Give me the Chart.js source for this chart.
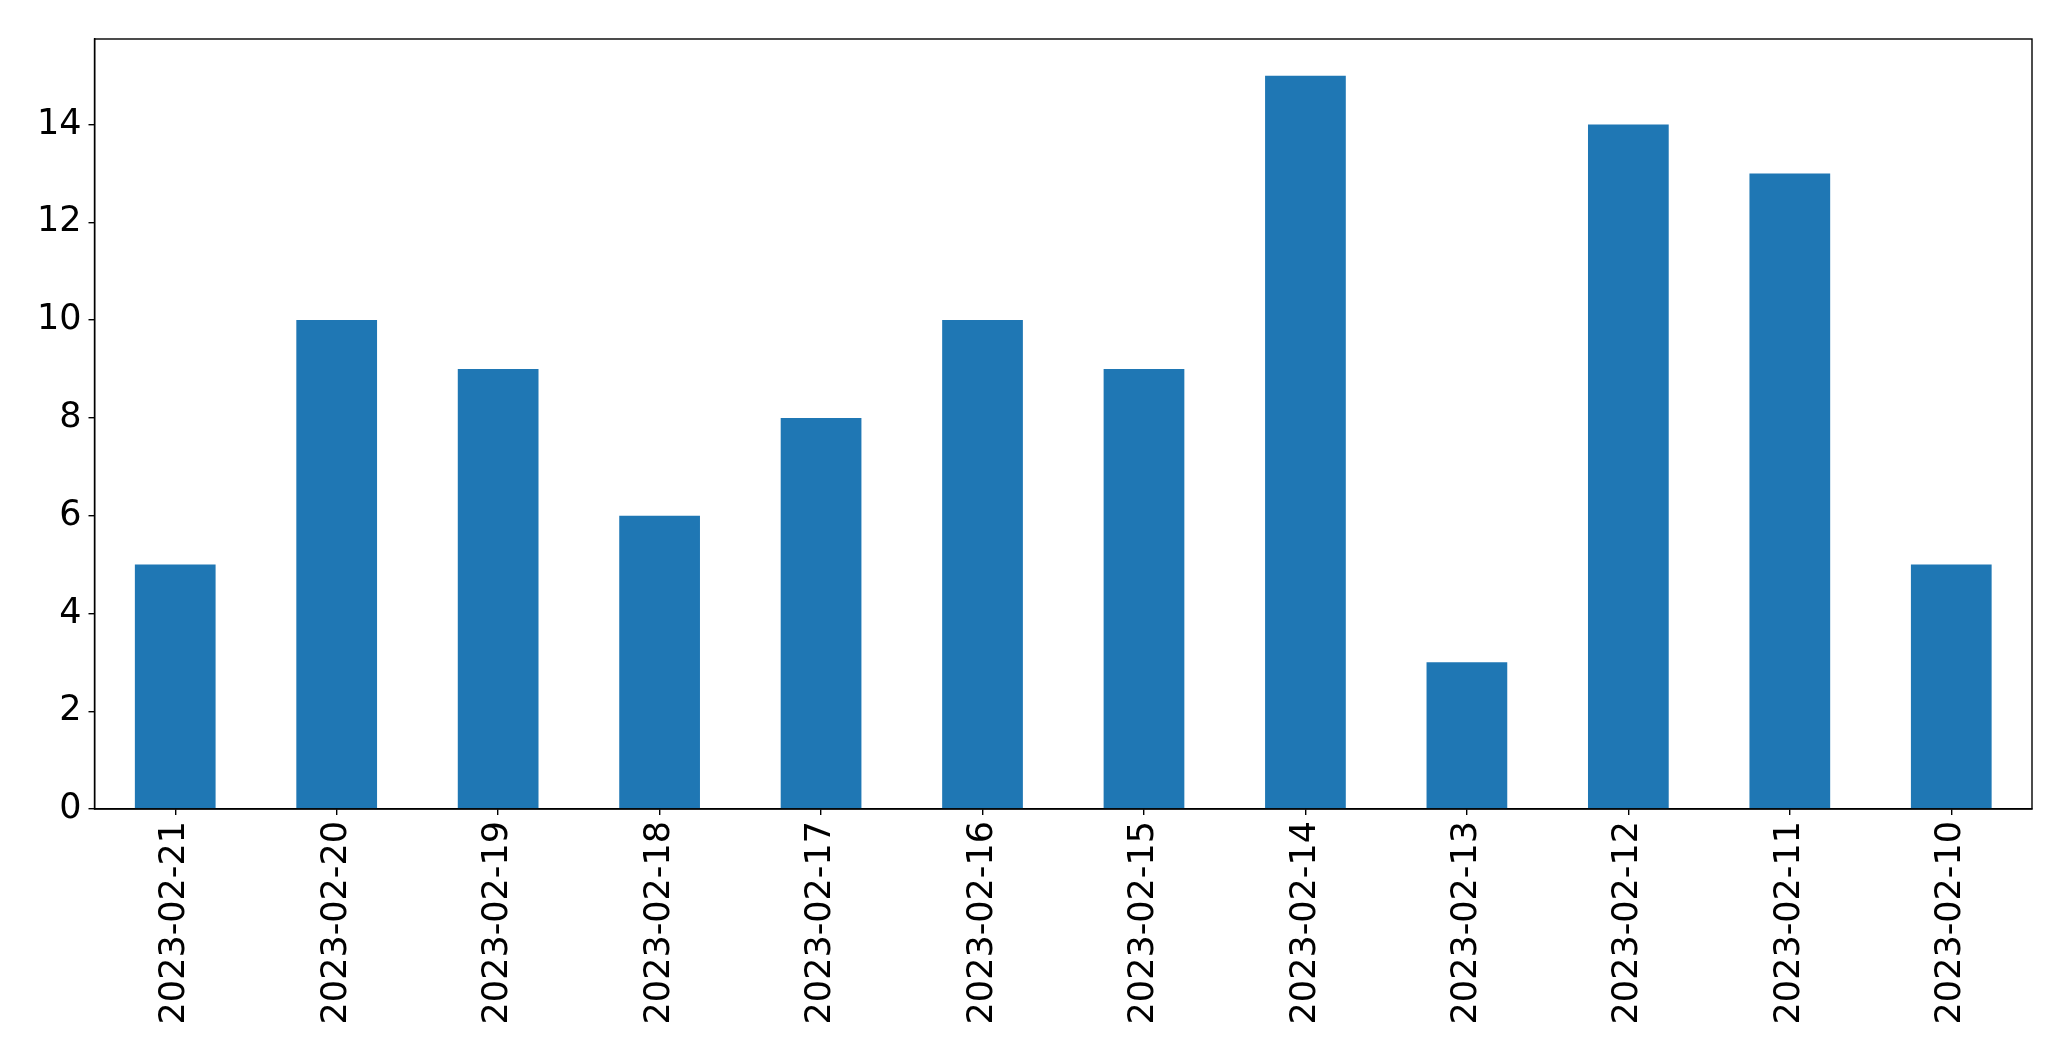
<!DOCTYPE html>
<html>
<head>
<meta charset="utf-8">
<script src="https://cdn.jsdelivr.net/npm/chart.js@4"></script>
<style>
  html, body { margin: 0; padding: 0; background: #fff; }
  canvas { display: block; }
</style>
</head>
<body>
<canvas id="barChart" width="2071" height="1061"></canvas>
<script>
var categories = ["2023-02-21", "2023-02-20", "2023-02-19", "2023-02-18", "2023-02-17", "2023-02-16",
                  "2023-02-15", "2023-02-14", "2023-02-13", "2023-02-12", "2023-02-11", "2023-02-10"];
var counts = [5, 10, 9, 6, 8, 10, 9, 15, 3, 14, 13, 5];
var yTicks = [0, 2, 4, 6, 8, 10, 12, 14];

// cadre complet autour de la zone du graphique
var frame = {
    id: "frame",
    afterDraw: function (chart) {
        var a = chart.chartArea, ctx = chart.ctx;
        ctx.save();
        ctx.strokeStyle = "#000";
        ctx.lineWidth = 1.4;
        ctx.strokeRect(a.left, a.top, a.right - a.left, a.bottom - a.top);
        ctx.restore();
    }
};

var config = {
    type: "bar",
    data: {
        labels: categories,
        datasets: [{
            data: counts,
            backgroundColor: "#1f77b4",
            borderWidth: 0,
            barPercentage: 0.5,
            categoryPercentage: 1.0
        }]
    },
    options: {
        responsive: false,
        animation: false,
        layout: { padding: { top: 39, right: 39, left: 0, bottom: 0 } },
        plugins: { legend: { display: false }, tooltip: { enabled: false } },
        scales: {
            x: {
                grid: { offset: false, drawOnChartArea: false, drawTicks: true, tickLength: 6, color: "#000", lineWidth: 1.4 },
                border: { display: true, color: "#000", width: 1.4 },
                ticks: {
                    color: "#000",
                    font: { family: "DejaVu Sans", size: 35 },
                    minRotation: 90, maxRotation: 90,
                    padding: 6,
                    autoSkip: false
                },
                afterFit: function (axis) { axis.height = 1061 - 809; }
            },
            y: {
                min: 0,
                max: 15.75,
                grid: { drawOnChartArea: false, drawTicks: true, tickLength: 6, color: "#000", lineWidth: 1.4 },
                border: { display: true, color: "#000", width: 1.4 },
                ticks: {
                    color: "#000",
                    font: { family: "DejaVu Sans", size: 35 },
                    padding: 7
                },
                afterBuildTicks: function (axis) {
                    axis.ticks = yTicks.map(function (v) { return { value: v }; });
                },
                afterFit: function (axis) { axis.width = 94.5; }
            }
        }
    },
    plugins: [frame]
};

var barChart = new Chart(document.getElementById("barChart"), config);
</script>
</body>
</html>
